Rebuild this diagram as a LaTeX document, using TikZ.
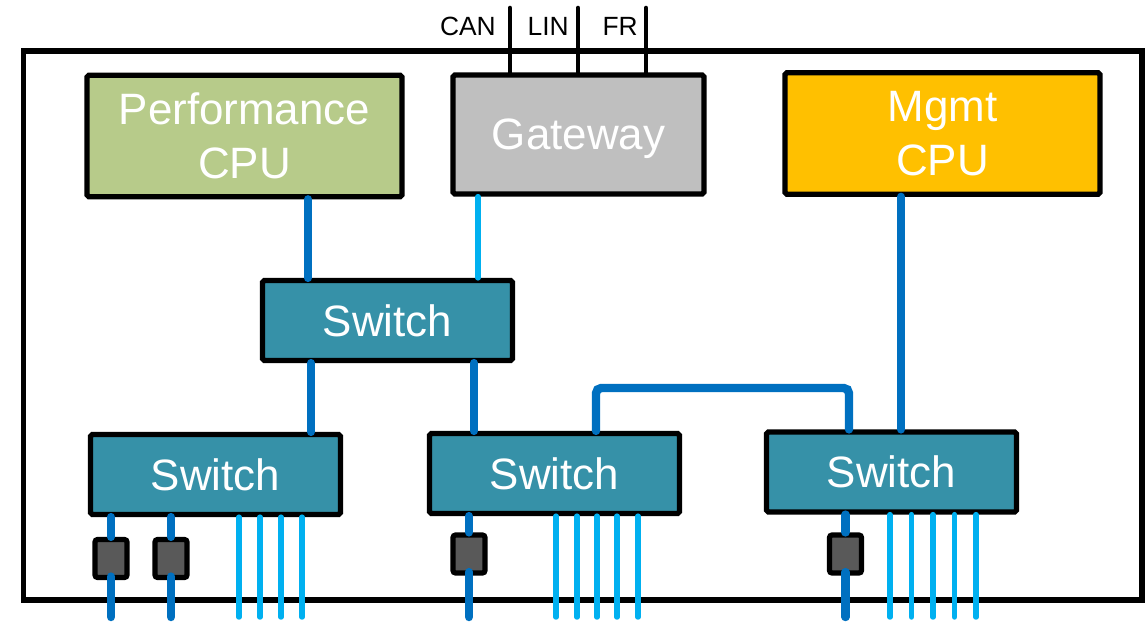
\documentclass[tikz,border=0pt]{standalone}
\usepackage{fontspec}
\setmainfont{Liberation Sans}

\definecolor{perfgreen}{HTML}{B7CB8A}
\definecolor{gwgray}{HTML}{BFBFBF}
\definecolor{mgmtyellow}{HTML}{FFC000}
\definecolor{swteal}{HTML}{3691A8}
\definecolor{linkdark}{HTML}{0070C0}
\definecolor{linklight}{HTML}{00B0F0}
\definecolor{phygray}{HTML}{595959}

\begin{document}
\begin{tikzpicture}[
    x=0.02cm, y=-0.02cm,
    block/.style={
        rectangle,
        rounded corners=1pt,
        draw=black,
        line width=3pt,
        text=white,
        font=\fontsize{25}{31}\selectfont,
        align=center,
        inner sep=0pt
    },
    cpu/.style={
        block,
        minimum width=6.3cm,
        minimum height=2.43cm
    },
    gateway/.style={
        block,
        fill=gwgray,
        text depth=0pt,
        minimum width=5.02cm,
        minimum height=2.38cm
    },
    switchbox/.style={
        block,
        fill=swteal,
        minimum width=5cm,
        minimum height=1.6cm
    },
    phy/.style={
        rectangle,
        rounded corners=1.5pt,
        draw=black,
        line width=3pt,
        fill=phygray,
        minimum width=0.64cm,
        minimum height=0.76cm,
        inner sep=0pt
    },
    frame/.style={
        rectangle,
        draw=black,
        line width=3pt,
        minimum width=22.37cm,
        minimum height=10.98cm
    },
    trunk/.style={
        draw=linkdark,
        line width=4.8pt,
        line cap=round
    },
    branch/.style={
        draw=linklight,
        line width=3.1pt,
        line cap=round
    },
    bus/.style={
        draw=black,
        line width=2.6pt,
        line cap=round
    },
    buslabel/.style={
        font=\fontsize{15}{17}\selectfont,
        anchor=base east,
        inner sep=0pt
    }
]
\useasboundingbox (0,0) rectangle (1146,623);

% ECU housing
\node[frame] (ecu) at (582.75,325.5) {};

% Rechenkerne
\node[cpu, fill=perfgreen] (perf) at (244.5,136) {Performance\\CPU};
\node[gateway] (gw) at (578.5,134.5) {Gateway};
\node[cpu, fill=mgmtyellow] (mgmt) at (942.5,133.5) {Mgmt\\CPU};

% Switches
\node[switchbox] (tsw) at (387.5,320.5) {Switch};
\node[switchbox] (lsw) at (215.5,474.5) {Switch};
\node[switchbox] (msw) at (554.5,473.5) {Switch};
\node[switchbox] (rsw) at (891.5,472) {Switch};

% Bus-Anschluesse am Gateway
\coordinate (can) at (510,8);
\coordinate (lin) at (578,8);
\coordinate (fr) at (646,8);
\draw[bus] (can) -- (can |- gw.north);
\draw[bus] (lin) -- (lin |- gw.north);
\draw[bus] (fr) -- (fr |- gw.north);
\node[buslabel] (canlbl) at (496,35) {CAN};
\node[buslabel] (linlbl) at (569,35) {LIN};
\node[buslabel] (frlbl) at (638,35) {FR};

% Verbindungen
\coordinate (t1) at (308,0);
\coordinate (t2) at (478,0);
\coordinate (t3) at (901,0);
\coordinate (t4) at (311,0);
\coordinate (t5) at (474,0);
\coordinate (t6) at (596,0);
\coordinate (t7) at (849,0);
\draw[trunk] (perf.south -| t1) -- (tsw.north -| t1);
\draw[branch] (gw.south -| t2) -- (tsw.north -| t2);
\draw[trunk] (mgmt.south -| t3) -- (rsw.north -| t3);
\draw[trunk] (tsw.south -| t4) -- (lsw.north -| t4);
\draw[trunk] (tsw.south -| t5) -- (msw.north -| t5);
\draw[trunk, rounded corners=3pt] (msw.north -| t6) -- (t6 |- 0,388)
    -- (t7 |- 0,388) -- (rsw.north -| t7);

% PHYs
\node[phy] (phy1) at (111,558.5) {};
\node[phy] (phy2) at (171,558.5) {};
\node[phy] (phy3) at (469,554) {};
\node[phy] (phy4) at (845.5,554) {};

\draw[trunk] (lsw.south -| phy1) -- (phy1.north);
\draw[trunk] (lsw.south -| phy2) -- (phy2.north);
\draw[trunk] (msw.south -| phy3) -- (phy3.north);
\draw[trunk] (rsw.south -| phy4) -- (phy4.north);

\foreach \p in {phy1,phy2,phy3,phy4}
    \draw[trunk] ([yshift=2pt]\p.south) -- (\p |- 0,617);

% Ports
\foreach \x in {239,260,281,302}
    \draw[branch] (lsw.south -| \x,0) -- (\x,617);

\foreach \x in {556,577,597,617,638}
    \draw[branch] (msw.south -| \x,0) -- (\x,617);

\foreach \x in {890,911.5,933,954.5,976}
    \draw[branch] (rsw.south -| \x,0) -- (\x,617);

\end{tikzpicture}
\end{document}
